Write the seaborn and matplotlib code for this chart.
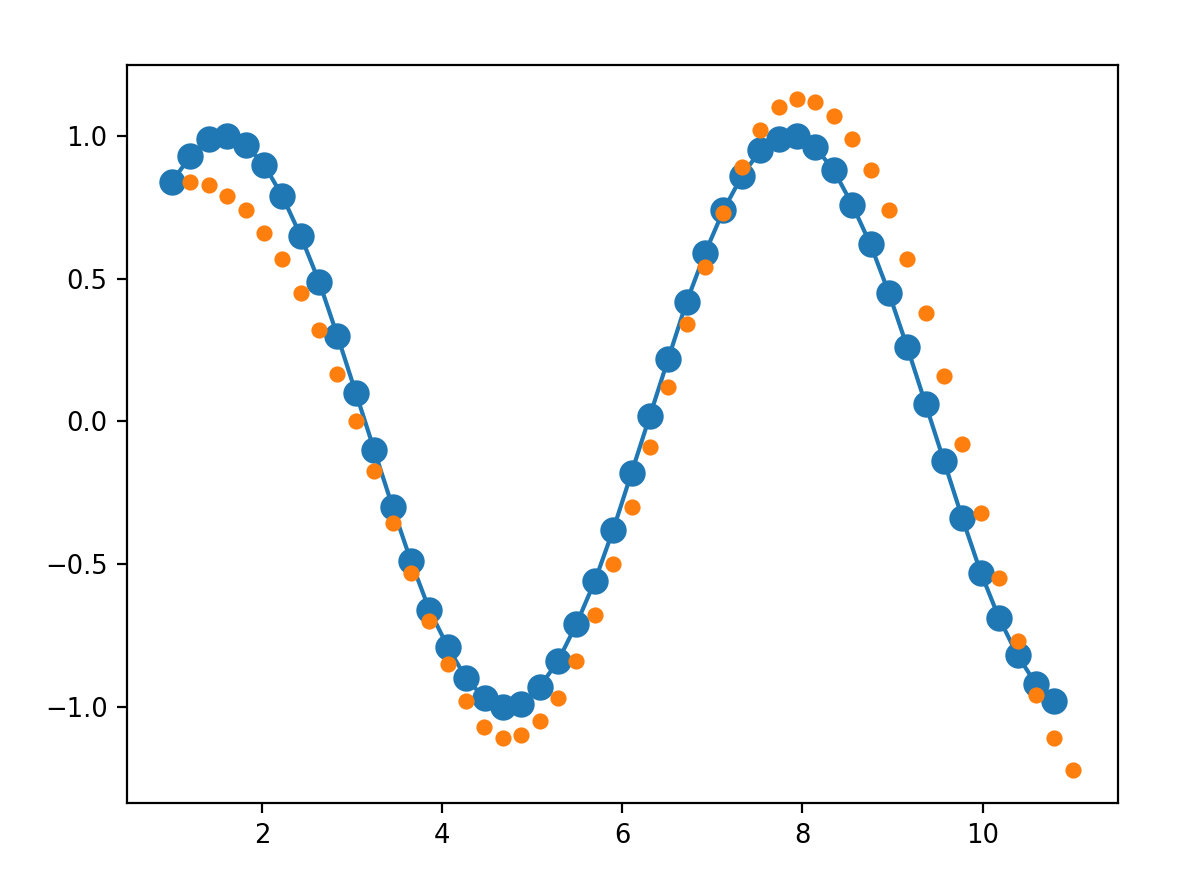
import numpy as np
import pandas as pd
import seaborn as sns
import matplotlib.pyplot as plt

# blue series: x grid and values
blue_x = np.linspace(1.0, 10.796, 49)
blue_y = [0.84, 0.93, 0.99, 1.00, 0.97, 0.90, 0.79, 0.65, 0.49, 0.30,
          0.10, -0.10, -0.30, -0.49, -0.66, -0.79, -0.90, -0.97, -1.00, -0.99,
          -0.93, -0.84, -0.71, -0.56, -0.38, -0.18, 0.02, 0.22, 0.42, 0.59,
          0.74, 0.86, 0.95, 0.99, 1.00, 0.96, 0.88, 0.76, 0.62, 0.45,
          0.26, 0.06, -0.14, -0.34, -0.53, -0.69, -0.82, -0.92, -0.98]

# orange series
orange_x = np.linspace(1.204, 11.0, 49)
orange_y = [0.84, 0.83, 0.79, 0.74, 0.66, 0.57, 0.45, 0.32, 0.165, 0.0,
            -0.175, -0.355, -0.53, -0.70, -0.85, -0.98, -1.07, -1.11, -1.10, -1.05,
            -0.97, -0.84, -0.68, -0.50, -0.30, -0.09, 0.12, 0.34, 0.54, 0.73,
            0.89, 1.02, 1.10, 1.13, 1.12, 1.07, 0.99, 0.88, 0.74, 0.57,
            0.38, 0.16, -0.08, -0.32, -0.55, -0.77, -0.96, -1.11, -1.22]

blue = pd.DataFrame({"x": blue_x, "y": blue_y})
orange = pd.DataFrame({"x": orange_x, "y": orange_y})

fig, ax = plt.subplots(figsize=(5.99, 4.36), dpi=200)
fig.subplots_adjust(left=0.106, right=0.933, top=0.925, bottom=0.079)

sns.lineplot(data=blue, x="x", y="y", color="#1f77b4", lw=1.5,
             marker="o", markersize=9.5, markeredgewidth=0, ax=ax)
sns.scatterplot(data=orange, x="x", y="y", color="#ff7f0e", s=34,
                linewidth=0, ax=ax, zorder=3)

ax.set_xlabel("")
ax.set_ylabel("")
ax.set_xticks([2, 4, 6, 8, 10])
ax.set_yticks([-1.0, -0.5, 0.0, 0.5, 1.0])
ax.tick_params(labelsize=9.3, width=0.8, length=3.5)
for s in ax.spines.values():
    s.set_linewidth(0.8)

fig.savefig("out.png", dpi=200)
plt.close(fig)
